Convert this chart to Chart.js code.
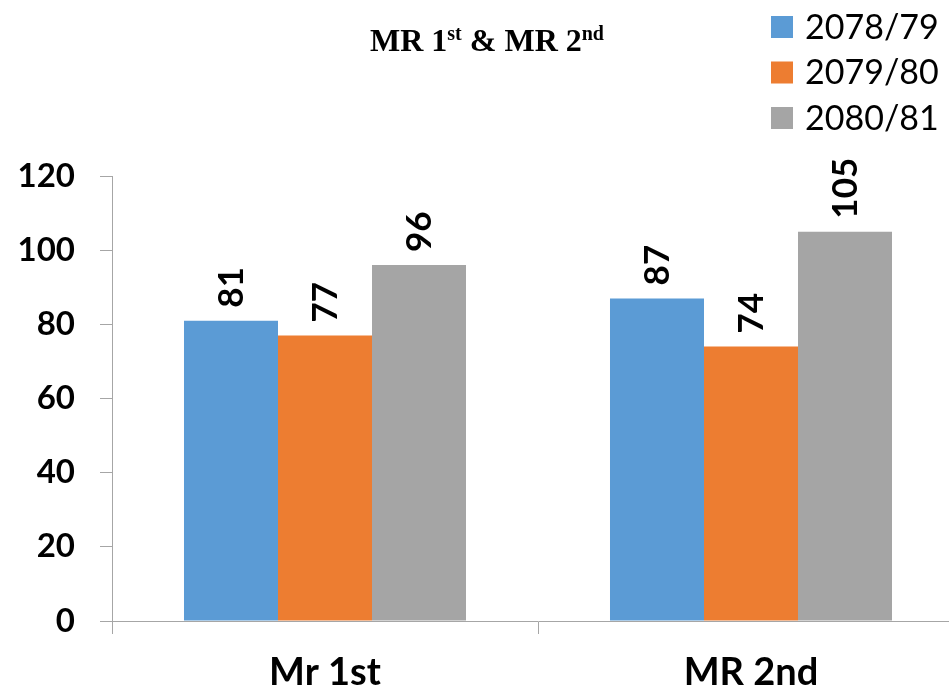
<!DOCTYPE html>
<html>
<head>
<meta charset="utf-8">
<script src="https://cdn.jsdelivr.net/npm/chart.js@4"></script>
<style>
  html, body { margin: 0; padding: 0; background: #fff; overflow: hidden; }
  #wrap { width: 980px; height: 695px; position: relative; }
</style>
</head>
<body>
<div id="wrap"><canvas id="chart"></canvas></div>
<script>
// data
const categories = ['Mr 1st', 'MR 2nd'];
const seriesLabels = ['2078/79', '2079/80', '2080/81'];
const values7879 = [81, 87];
const values7980 = [77, 74];
const values8081 = [96, 105];
const seriesColors = ['#5B9BD5', '#ED7D31', '#A5A5A5'];
const yMin = 0, yMax = 120, yStep = 20;

// title with superscripts, drawn as text pieces
const titleParts = [
    { text: 'MR 1', sup: false },
    { text: 'st', sup: true },
    { text: ' & MR 2', sup: false },
    { text: 'nd', sup: true }
];

const titleAndLegend = {
    id: 'titleAndLegend',
    afterDraw(chart) {
        const ctx = chart.ctx;
        ctx.save();
        // title
        const bigFont = 'bold 32px "Liberation Serif", "Times New Roman", serif';
        const supFont = 'bold 20px "Liberation Serif", "Times New Roman", serif';
        let total = 0;
        titleParts.forEach(p => {
            ctx.font = p.sup ? supFont : bigFont;
            total += ctx.measureText(p.text).width;
        });
        let x = 487 - total / 2;
        ctx.fillStyle = '#000';
        ctx.textBaseline = 'alphabetic';
        ctx.textAlign = 'left';
        titleParts.forEach(p => {
            ctx.font = p.sup ? supFont : bigFont;
            ctx.fillText(p.text, x, p.sup ? 40 : 51);
            x += ctx.measureText(p.text).width;
        });

        // legend, one row per series
        ctx.font = '34px Lato, sans-serif';
        ctx.textBaseline = 'middle';
        chart.data.datasets.forEach((ds, i) => {
            const cy = 27 + i * 45.5;
            ctx.fillStyle = ds.backgroundColor;
            ctx.fillRect(771, cy - 11, 22, 22);
            ctx.fillStyle = '#000';
            ctx.fillText(ds.label, 805, cy + 1);
        });
        ctx.restore();
    }
};

const barValueLabels = {
    id: 'barValueLabels',
    afterDatasetsDraw(chart) {
        const ctx = chart.ctx;
        ctx.save();
        ctx.font = 'bold 35px Lato, sans-serif';
        ctx.fillStyle = '#000';
        ctx.textAlign = 'left';
        ctx.textBaseline = 'middle';
        chart.data.datasets.forEach((ds, i) => {
            chart.getDatasetMeta(i).data.forEach((bar, j) => {
                ctx.save();
                ctx.translate(bar.x, bar.y - 13);
                ctx.rotate(-Math.PI / 2);
                ctx.fillText(String(ds.data[j]), 0, 1);
                ctx.restore();
            });
        });
        ctx.restore();
    }
};

const allSeries = [values7879, values7980, values8081];

new Chart(document.getElementById('chart'), {
    type: 'bar',
    data: {
        labels: categories,
        datasets: allSeries.map((vals, i) => ({
            label: seriesLabels[i],
            data: vals,
            backgroundColor: seriesColors[i],
            borderWidth: 0,
            categoryPercentage: 0.662,
            barPercentage: 1.0
        }))
    },
    options: {
        responsive: true,
        maintainAspectRatio: false,
        animation: false,
        layout: { padding: { left: 0, right: 16, top: 176, bottom: 0 } },
        plugins: {
            legend: { display: false },
            title: { display: false },
            tooltip: { enabled: false }
        },
        scales: {
            x: {
                afterFit: (scale) => { scale.height = 74; },
                grid: { drawOnChartArea: false, tickLength: 13, color: '#a6a6a6', offset: true },
                border: { color: '#a6a6a6' },
                ticks: {
                    color: '#000',
                    padding: 16,
                    font: { family: 'Lato, sans-serif', size: 38, weight: 'bold' }
                }
            },
            y: {
                min: yMin,
                max: yMax,
                afterFit: (scale) => { scale.width = 112; },
                grid: { drawOnChartArea: false, tickLength: 12, color: '#a6a6a6' },
                border: { color: '#a6a6a6' },
                ticks: {
                    stepSize: yStep,
                    color: '#000',
                    padding: 25,
                    font: { family: 'Lato, sans-serif', size: 33, weight: 'bold' }
                }
            }
        }
    },
    plugins: [titleAndLegend, barValueLabels]
});
</script>
</body>
</html>
